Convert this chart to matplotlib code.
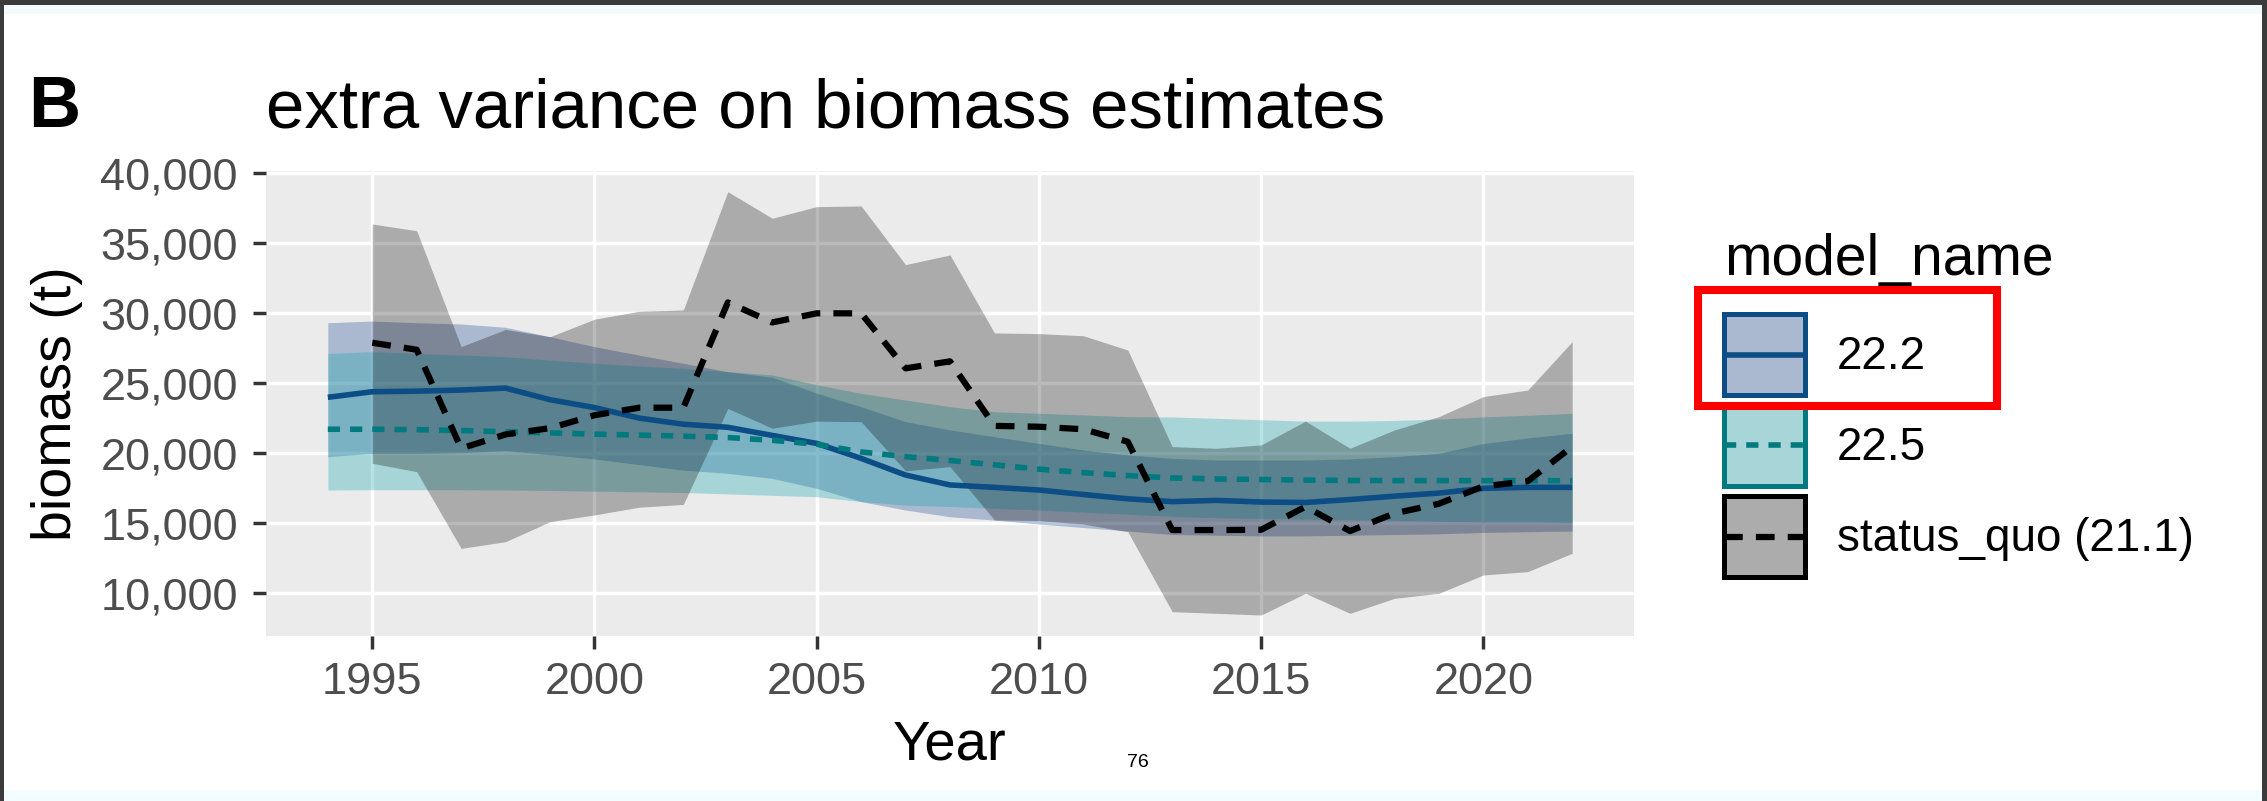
import matplotlib
matplotlib.use("Agg")
import matplotlib.pyplot as plt
import matplotlib.colors as mc
from matplotlib.patches import Rectangle, Patch
from matplotlib.lines import Line2D
from matplotlib.legend_handler import HandlerBase
from matplotlib.ticker import FuncFormatter

plt.rcParams['font.family'] = ['Liberation Sans', 'DejaVu Sans']

# ---------------- data ----------------
years_model = [1994, 1995, 1996, 1997, 1998, 1999, 2000, 2001, 2002, 2003,
               2004, 2005, 2006, 2007, 2008, 2009, 2010, 2011, 2012, 2013,
               2014, 2015, 2016, 2017, 2018, 2019, 2020, 2021, 2022]
years_sq = years_model[1:]

m222 = [24000, 24400, 24440, 24520, 24660, 23830, 23270, 22520, 22080, 21860,
        21280, 20710, 19640, 18450, 17740, 17570, 17380, 17060, 16750, 16550,
        16640, 16520, 16490, 16700, 16940, 17160, 17500, 17570, 17570]
m222_lo = [19760, 20000, 20000, 20050, 20200, 19900, 19600, 19200, 18800, 18570,
           18210, 17500, 16550, 15950, 15470, 15230, 14950, 14700, 14450, 14200,
           14150, 14100, 14100, 14150, 14200, 14250, 14350, 14400, 14450]
m222_hi = [29330, 29450, 29330, 29240, 29000, 28330, 27620, 27020, 26430, 25830,
           25430, 24300, 23330, 22260, 21670, 21190, 20710, 20240, 19880, 19640,
           19520, 19520, 19520, 19600, 19760, 20000, 20700, 21100, 21430]

m225 = [21720, 21720, 21690, 21630, 21540, 21460, 21370, 21300, 21230, 21130,
        20930, 20650, 20100, 19760, 19490, 19180, 18870, 18620, 18410, 18240,
        18170, 18130, 18090, 18060, 18050, 18050, 18050, 18050, 18040]
m225_lo = [17380, 17400, 17400, 17400, 17380, 17350, 17300, 17250, 17200, 17100,
           17000, 16900, 16550, 16300, 16200, 16070, 15950, 15800, 15650, 15500,
           15400, 15350, 15300, 15250, 15200, 15150, 15100, 15100, 15050]
m225_hi = [27140, 27260, 27140, 27020, 26900, 26660, 26430, 26240, 26070, 25830,
           25600, 24900, 24280, 23810, 23330, 22970, 22860, 22740, 22620, 22600,
           22500, 22400, 22300, 22300, 22350, 22450, 22600, 22720, 22850]

sq = [27900, 27400, 20350, 21350, 21800, 22720, 23260, 23260, 30780, 29350,
      30000, 30000, 26070, 26570, 21960, 21900, 21720, 20830, 14520, 14520,
      14540, 16190, 14450, 15710, 16400, 17640, 18010, 20480]
sq_lo = [19290, 18690, 13210, 13690, 15120, 15600, 16150, 16350, 23210, 21790,
         22300, 22260, 18750, 19050, 15240, 15200, 14950, 14400, 8690, 8570,
         8450, 10000, 8570, 9640, 10000, 11310, 11550, 12860]
sq_hi = [36380, 35900, 27620, 28850, 28330, 29580, 30140, 30240, 38690, 36790,
         37620, 37670, 33480, 34170, 28600, 28550, 28400, 27380, 20480, 20360,
         20600, 22300, 20360, 21670, 22620, 24050, 24520, 27980]

model_labels = ["22.2", "22.5", "status_quo (21.1)"]
x_ticks = [1995, 2000, 2005, 2010, 2015, 2020]
y_ticks = [10000, 15000, 20000, 25000, 30000, 35000, 40000]

# ---------------- styles ----------------
W, H = 2267, 801
PANEL = "#ebebeb"
BLUE_LINE = "#0c4d85"
BLUE_FILL = "#1a4a92"
TEAL_LINE = "#007a7e"
TEAL_FILL = "#12a5ac"
GRAY_FILL = "#000000"
A_MODEL = 0.31
A_SQ = 0.27
LW = 4.0
LW_SQ = 4.5
DASHED = (3.0, 2.1)
DOTTED = (2.2, 1.8)
KEY_LW = 3.6


def fx(px):
    return px / W


def fy(py):
    return 1 - py / H


def over_panel(hexc, a):
    c = mc.to_rgb(hexc)
    b = mc.to_rgb(PANEL)
    return tuple(a * ci + (1 - a) * bi for ci, bi in zip(c, b))


fig = plt.figure(figsize=(W / 100, H / 100), dpi=100)
fig.patch.set_facecolor("white")

# screenshot frame
for (x0, y0, x1, y1, c) in [
    (0, 0, W, 5, "#3b3b3b"),
    (0, 5, W, 14, "#f3fbfd"),
    (0, 790, W, H, "#f3fcfe"),
    (0, 0, 3.5, H, "#3b3b3b"),
    (2262, 0, W, H, "#3b3b3b"),
]:
    fig.add_artist(Rectangle((fx(x0), fy(y1)), fx(x1 - x0), (y1 - y0) / H,
                             transform=fig.transFigure, facecolor=c,
                             edgecolor="none", zorder=0))

# ---------------- axes ----------------
ax_left, ax_right, ax_top, ax_bottom = 265.6, 1634.4, 170.5, 636.2
ax = fig.add_axes([fx(ax_left), fy(ax_bottom), fx(ax_right - ax_left),
                   (ax_bottom - ax_top) / H])
ax.set_facecolor(PANEL)
for s in ax.spines.values():
    s.set_visible(False)

ax.fill_between(years_model, m222_lo, m222_hi, color=BLUE_FILL, alpha=A_MODEL,
                lw=0, zorder=2)
ax.fill_between(years_model, m225_lo, m225_hi, color=TEAL_FILL, alpha=A_MODEL,
                lw=0, zorder=2)
ax.fill_between(years_sq, sq_lo, sq_hi, color=GRAY_FILL, alpha=A_SQ, lw=0,
                zorder=2)
l1, = ax.plot(years_model, m222, color=BLUE_LINE, lw=LW, zorder=3,
              solid_capstyle="butt")
l2, = ax.plot(years_model, m225, color=TEAL_LINE, lw=LW, zorder=3,
              dashes=DOTTED, dash_capstyle="butt")
l3, = ax.plot(years_sq, sq, color="black", lw=LW_SQ, zorder=3,
              dashes=DASHED, dash_capstyle="butt")

all_lo = min(min(m222_lo), min(m225_lo), min(sq_lo))
all_hi = max(max(m222_hi), max(m225_hi), max(sq_hi))
yr = all_hi - all_lo
ax.set_ylim(all_lo - 0.05 * yr, all_hi + 0.05 * yr)
xr = years_model[-1] - years_model[0]
ax.set_xlim(years_model[0] - 0.05 * xr, years_model[-1] + 0.05 * xr)

ax.set_xticks(x_ticks)
ax.set_yticks(y_ticks)
ax.yaxis.set_major_formatter(FuncFormatter(lambda v, p: f"{int(v):,}"))
ax.grid(True, color="white", lw=2.5)
ax.set_axisbelow(True)
ax.tick_params(axis="both", length=9.4, width=2.5, color="#333333",
               labelsize=32.5, labelcolor="#4d4d4d")
ax.tick_params(axis="y", pad=10.5)
ax.tick_params(axis="x", pad=9.0)

ax.set_xlabel("Year", fontsize=40.5)
ax.xaxis.set_label_coords(0.5, -(760 - ax_bottom) / (ax_bottom - ax_top))
ax.xaxis.label.set_va("baseline")
ax.set_ylabel("biomass (t)", fontsize=40)
ax.yaxis.set_label_coords((57 - ax_left) / (ax_right - ax_left), 0.5)
ax.yaxis.label.set_va("center")

ax.set_title("extra variance on biomass estimates", loc="left", fontsize=49.7,
             y=(ax_bottom - 127) / (ax_bottom - ax_top), pad=0,
             va="baseline")
fig.text(fx(28), fy(127), "B", fontsize=52, fontweight="bold", va="baseline")
fig.text(fx(1127), fy(767), "76", fontsize=14, va="baseline")


# ---------------- legend ----------------
class KeyHandler(HandlerBase):
    def create_artists(self, legend, orig_handle, xdescent, ydescent, width,
                       height, fontsize, trans):
        patch, line = orig_handle
        x0, y0 = -xdescent, -ydescent
        rect = Rectangle((x0, y0), width, height,
                         facecolor=patch.get_facecolor(),
                         edgecolor=patch.get_edgecolor(),
                         linewidth=patch.get_linewidth(), transform=trans)
        yc = y0 + height / 2
        ln = Line2D([x0, x0 + width], [yc, yc], color=line.get_color(),
                    linewidth=line.get_linewidth(),
                    linestyle=line.get_linestyle(),
                    solid_capstyle="butt", dash_capstyle="butt")
        if line.get_linestyle() not in ("-", "solid"):
            ln.set_dashes(line._unscaled_dash_pattern[1])
        ln.set_transform(trans)
        ln.set_clip_on(False)
        return [rect, ln]


handles = [
    (Patch(facecolor=over_panel(BLUE_FILL, A_MODEL), edgecolor=BLUE_LINE,
           lw=KEY_LW), l1),
    (Patch(facecolor=over_panel(TEAL_FILL, A_MODEL), edgecolor=TEAL_LINE,
           lw=KEY_LW), l2),
    (Patch(facecolor=over_panel(GRAY_FILL, A_SQ), edgecolor="black",
           lw=KEY_LW), l3),
]
LFS = 33
fs_px = LFS * 100 / 72
KEY = 81.0
hh = (KEY / fs_px - 0.245) / 0.65
leg = ax.legend(handles, model_labels, title="model_name",
                handler_map={tuple: KeyHandler()},
                loc="upper left", bbox_to_anchor=(fx(1724), fy(232.5)),
                bbox_transform=fig.transFigure, frameon=False,
                fontsize=LFS, title_fontsize=41, alignment="left",
                handlelength=KEY / fs_px, handleheight=hh,
                labelspacing=10 / fs_px, handletextpad=0.69,
                borderpad=0, borderaxespad=0)
leg._legend_box.sep = 19.8

# highlight box around the first legend entry
fig.add_artist(Rectangle((fx(1698), fy(405.5)), fx(1997 - 1698),
                         (405.5 - 289.5) / H, transform=fig.transFigure,
                         facecolor="none", edgecolor="#ff0000", lw=5.8,
                         zorder=10))

fig.savefig("out.png", dpi=100, facecolor=fig.get_facecolor())
